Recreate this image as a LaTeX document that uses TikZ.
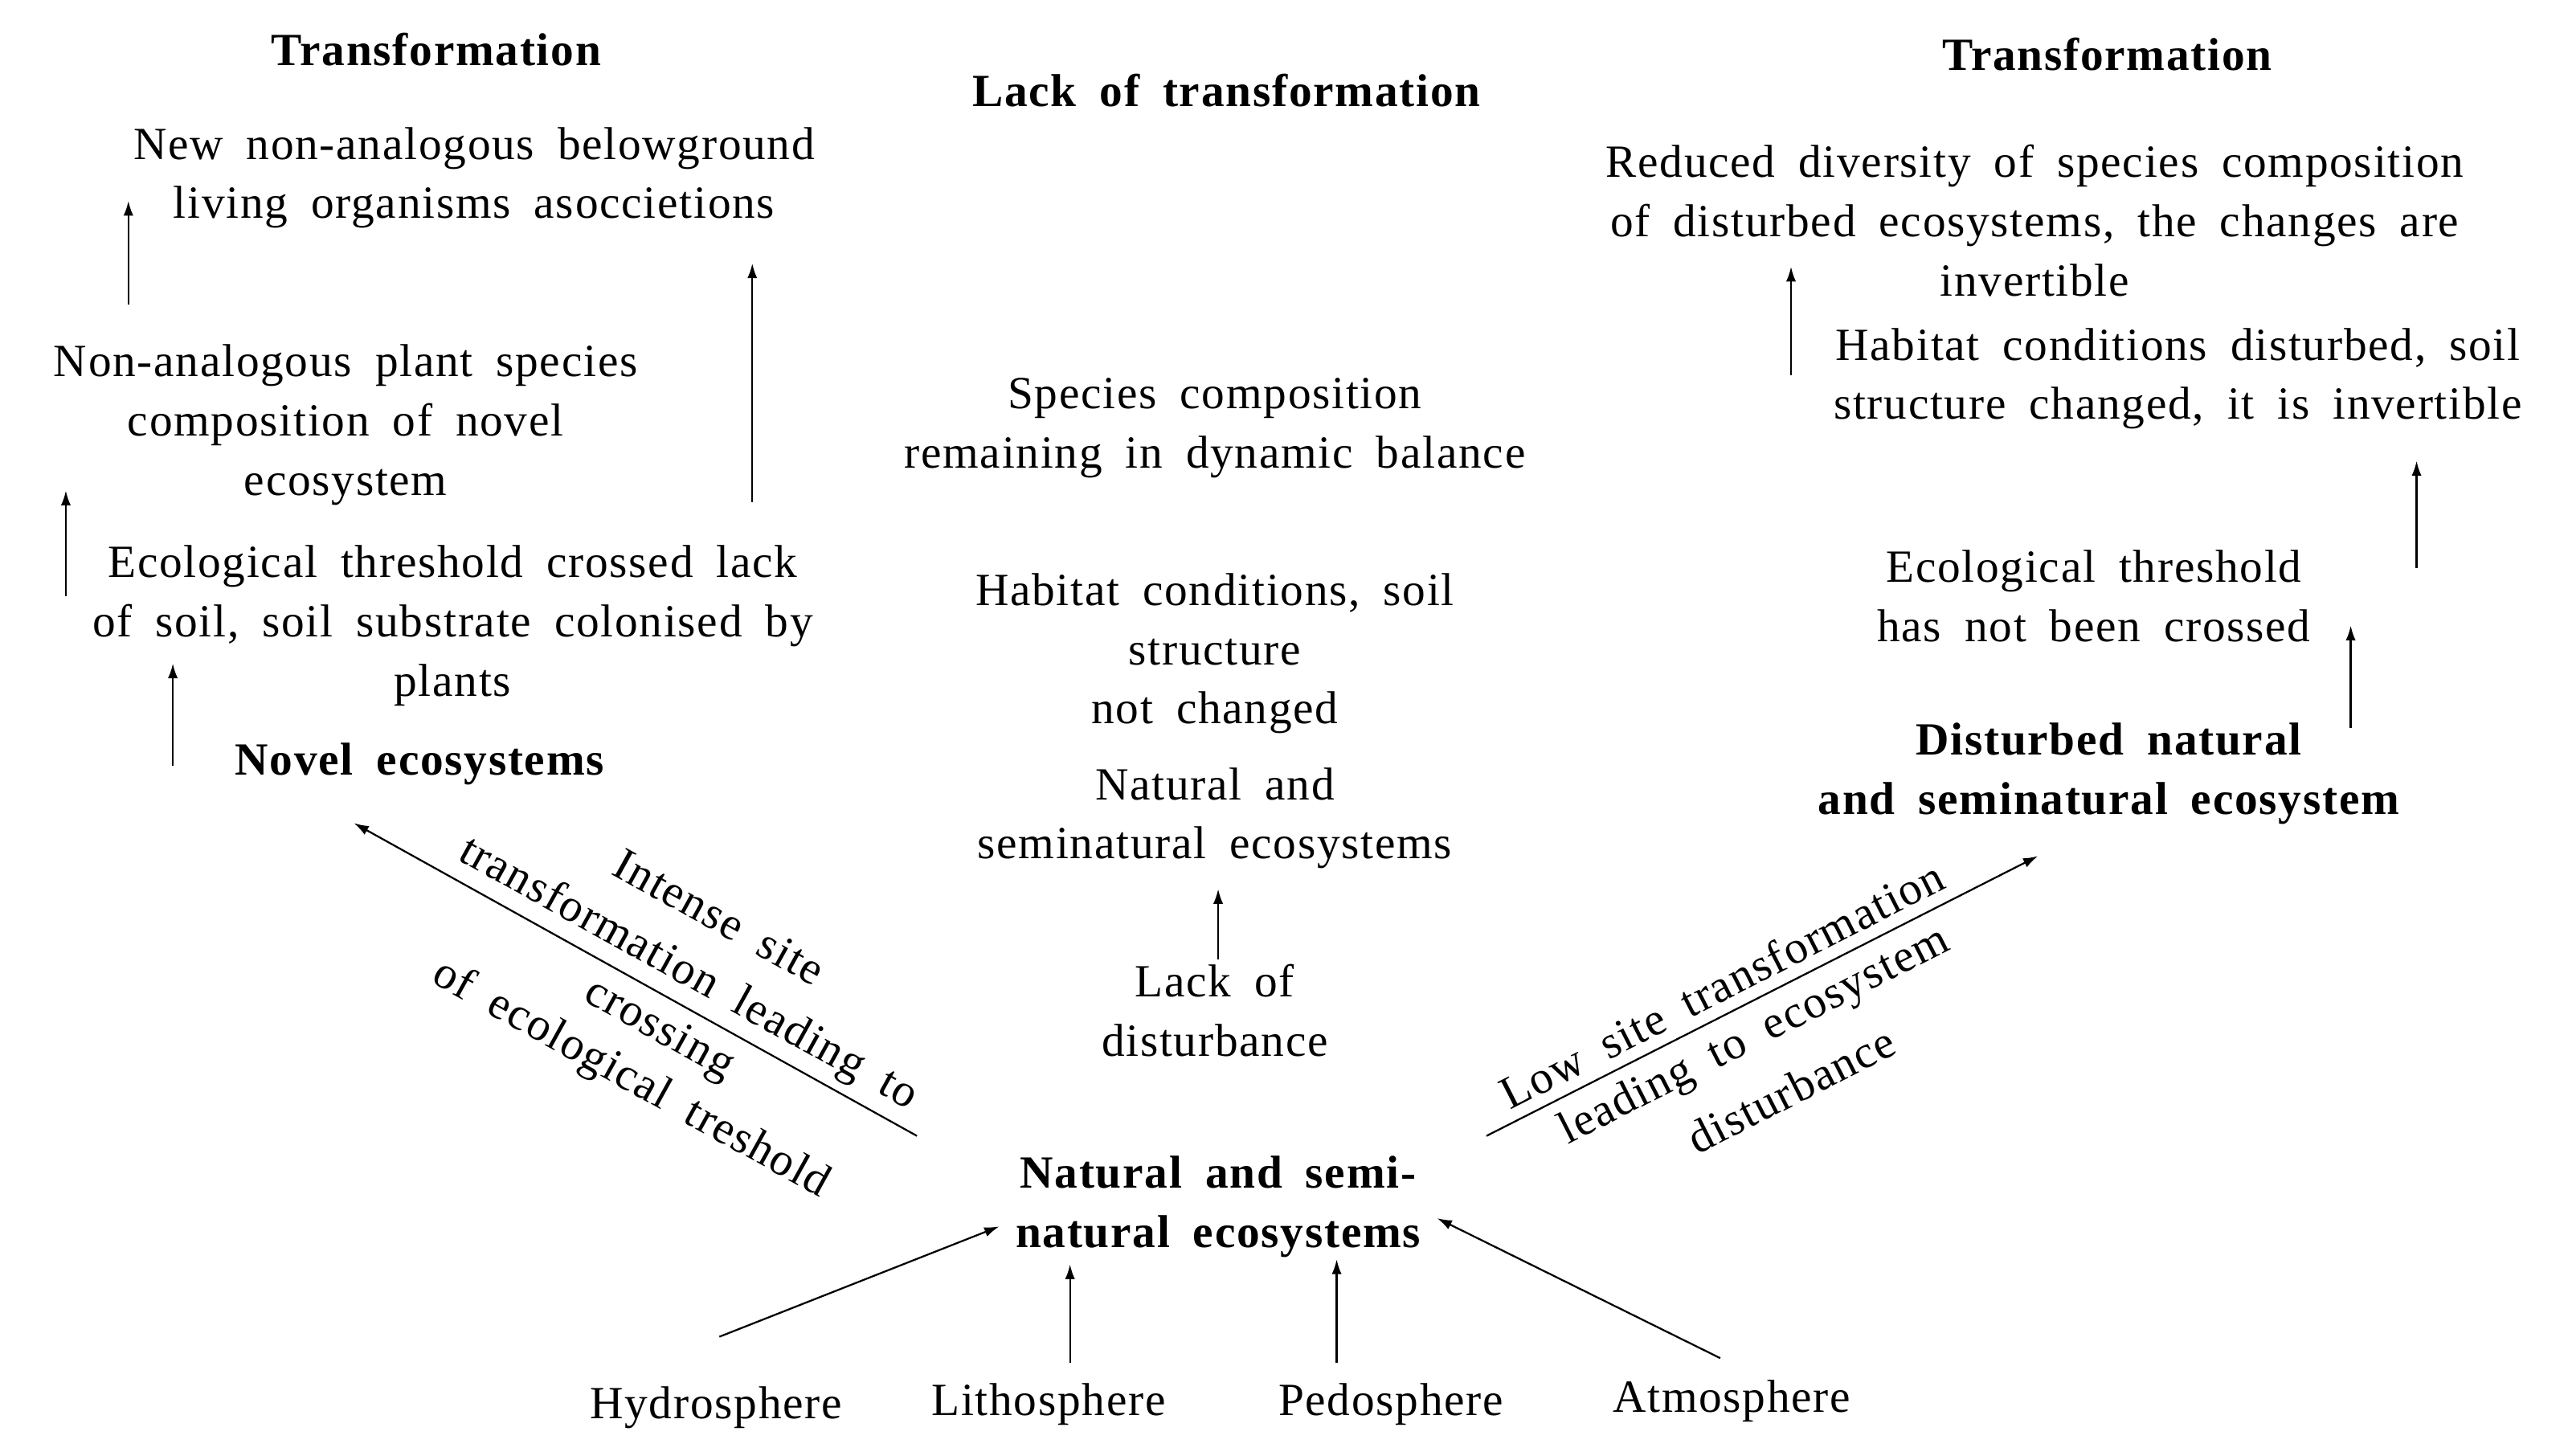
\documentclass[tikz,border=0pt]{standalone}
\usepackage{fontspec}
\setmainfont{Liberation Serif}[LetterSpace=3,WordSpace=1.8]
\usetikzlibrary{arrows.meta}
\begin{document}
\begin{tikzpicture}[x=1pt,y=-1pt,
  txt/.style={align=center,inner sep=0pt,font=\fontsize{28}{36}\selectfont},
  bt/.style={txt,font=\fontsize{28}{36}\selectfont\bfseries},
  arr/.style={line width=1.1pt,-{Latex[length=9pt,width=6pt]}}]
\useasboundingbox (0,0) rectangle (1560,884);
\fill[white] (0,0) rectangle (1560,884);
% left column
\node[bt] (tl) at (265,30) {Transformation};
\node[txt] (l1) at (288,108) {New non-analogous belowground\\living organisms asoccietions};
\node[txt] (l2) at (210,258) {Non-analogous plant species\\composition of novel\\ecosystem};
\node[txt] (l3) at (275,380) {Ecological threshold crossed lack\\of soil, soil substrate colonised by\\plants};
\node[bt] (nov) at (255,464) {Novel ecosystems};
\coordinate (a1s) at (78,185); \coordinate (a1e) at (78,122);
\coordinate (a2s) at (457,305); \coordinate (a2e) at (457,160);
\coordinate (a3s) at (40,362); \coordinate (a3e) at (40,298);
\coordinate (a4s) at (105,465); \coordinate (a4e) at (105,403);
\draw[arr] (a1s) -- (a1e);
\draw[arr] (a2s) -- (a2e);
\draw[arr] (a3s) -- (a3e);
\draw[arr] (a4s) -- (a4e);
% middle column
\node[bt] (tm) at (745,55) {Lack of transformation};
\node[txt] (m1) at (738,260) {Species composition\\remaining in dynamic balance};
\node[txt] (m2) at (738,397) {Habitat conditions, soil\\structure\\not changed};
\node[txt] (m3) at (738,497) {Natural and\\seminatural ecosystems};
\node[txt] (m4) at (738,614) {Lack of\\disturbance};
\coordinate (m4t) at (740,583); \coordinate (m3b) at (740,540);
\draw[arr] (m4t) -- (m3b);
% right column
\node[bt] (tr) at (1280,33) {Transformation};
\node[txt] (r1) at (1236,134) {Reduced diversity of species composition\\of disturbed ecosystems, the changes are\\invertible};
\node[txt] (r2) at (1323,230) {Habitat conditions disturbed, soil\\structure changed, it is invertible};
\node[txt] (r3) at (1272,362) {Ecological threshold\\has not been crossed};
\node[bt] (dis) at (1281,470) {Disturbed natural\\and seminatural ecosystem};
\coordinate (b1s) at (1428,442); \coordinate (b1e) at (1428,380);
\coordinate (b2s) at (1468,345); \coordinate (b2e) at (1468,280);
\coordinate (b3s) at (1088,228); \coordinate (b3e) at (1088,162);
\draw[arr] (b1s) -- (b1e);
\draw[arr] (b2s) -- (b2e);
\draw[arr] (b3s) -- (b3e);
% bottom
\node[bt] (nat) at (740,733) {Natural and semi-\\natural ecosystems};
\node[txt] (hy) at (435,855) {Hydrosphere};
\node[txt] (li) at (637,853) {Lithosphere};
\node[txt] (pe) at (845,853) {Pedosphere};
\node[txt] (at) at (1052,851) {Atmosphere};
\coordinate (h1) at (437,812); \coordinate (h2) at (607,745);
\coordinate (li1) at (650,828); \coordinate (li2) at (650,768);
\coordinate (p1) at (812,828); \coordinate (p2) at (812,765);
\coordinate (at1) at (1045,825); \coordinate (at2) at (873,740);
\draw[arr] (h1) -- (h2);
\draw[arr] (li1) -- (li2);
\draw[arr] (p1) -- (p2);
\draw[arr] (at1) -- (at2);
% diagonals
\coordinate (dl1) at (557,690); \coordinate (dl2) at (215,500);
\draw[arr] (dl1) -- (dl2);
\node[txt,rotate=-29] (t1) at (437,557) {Intense site};
\node[txt,rotate=-29] (t2) at (418,592) {transformation leading to};
\node[txt,rotate=-29] (t3) at (400,626) {crossing};
\node[txt,rotate=-29] (t4) at (383,656) {of ecological treshold};
\coordinate (dr1) at (903,690); \coordinate (dr2) at (1238,520);
\draw[arr] (dr1) -- (dr2);
\node[txt,rotate=27] (u1) at (1046,598) {Low site transformation};
\node[txt,rotate=27] (u2) at (1066,630) {leading to ecosystem};
\node[txt,rotate=27] (u3) at (1088,662) {disturbance};
\end{tikzpicture}
\end{document}
